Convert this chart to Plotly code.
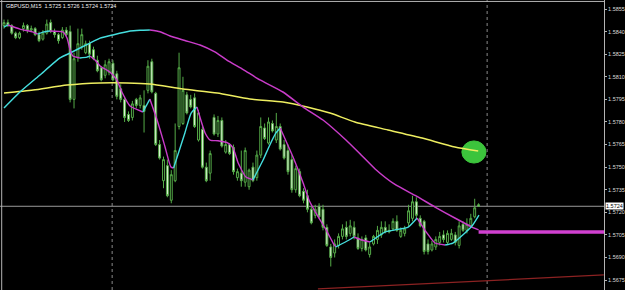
import plotly.graph_objects as go

# ---------------- data (GBPUSD M15) ----------------
OPEN = [1.5844, 1.5846, 1.5844, 1.5839, 1.5836, 1.5842, 1.5844, 1.5841, 1.5842, 1.5838,
        1.5835, 1.5839, 1.5846, 1.5840, 1.5838, 1.5836, 1.5841, 1.5840, 1.5795, 1.5823,
        1.5830, 1.5826, 1.5832, 1.5828, 1.5821, 1.5816,
        1.5811, 1.5813, 1.5819, 1.5812, 1.5802, 1.5795, 1.5785, 1.5783, 1.5795, 1.5791,
        1.5791, 1.5801, 1.5820, 1.5799, 1.5765, 1.5741, 1.5751, 1.5728, 1.5741, 1.5777,
        1.5779, 1.5798, 1.5795, 1.5796, 1.5768, 1.5775,
        1.5750, 1.5746, 1.5783, 1.5772, 1.5781, 1.5760, 1.5765, 1.5763, 1.5743, 1.5746,
        1.5740, 1.5737, 1.5750, 1.5743, 1.5758, 1.5776, 1.5766, 1.5779, 1.5768, 1.5777,
        1.5765, 1.5761, 1.5755, 1.5735, 1.5747, 1.5734,
        1.5731, 1.5722, 1.5718, 1.5724, 1.5722, 1.5710, 1.5697, 1.5693, 1.5698, 1.5704,
        1.5710, 1.5706, 1.5710, 1.5703, 1.5696, 1.5703, 1.5692, 1.5699, 1.5702, 1.5705,
        1.5710, 1.5708, 1.5709, 1.5714, 1.5704, 1.5706,
        1.5713, 1.5716, 1.5727, 1.5716, 1.5714, 1.5699, 1.5695, 1.5697, 1.5700, 1.5705,
        1.5700, 1.5702, 1.5705, 1.5698, 1.5712, 1.5708, 1.5711, 1.5717, 1.5725]
HIGH = [1.5848, 1.5848, 1.5845, 1.5840, 1.5840, 1.5846, 1.5845, 1.5844, 1.5843, 1.5840,
        1.5841, 1.5848, 1.5848, 1.5842, 1.5839, 1.5843, 1.5843, 1.5844, 1.5826, 1.5842,
        1.5842, 1.5834, 1.5834, 1.5830, 1.5824, 1.5817,
        1.5821, 1.5822, 1.5821, 1.5814, 1.5805, 1.5797, 1.5787, 1.5794, 1.5796, 1.5798,
        1.5801, 1.5821, 1.5822, 1.5800, 1.5768, 1.5757, 1.5755, 1.5748, 1.5779, 1.5826,
        1.5810, 1.5800, 1.5798, 1.5799, 1.5788, 1.5777,
        1.5753, 1.5761, 1.5785, 1.5784, 1.5783, 1.5768, 1.5766, 1.5765, 1.5749, 1.5761,
        1.5763, 1.5749, 1.5753, 1.5761, 1.5783, 1.5779, 1.5783, 1.5781, 1.5786, 1.5779,
        1.5768, 1.5765, 1.5758, 1.5751, 1.5749, 1.5736,
        1.5735, 1.5724, 1.5725, 1.5726, 1.5725, 1.5712, 1.5699, 1.5702, 1.5706, 1.5712,
        1.5714, 1.5715, 1.5714, 1.5706, 1.5704, 1.5705, 1.5700, 1.5705, 1.5711, 1.5714,
        1.5714, 1.5712, 1.5716, 1.5718, 1.5710, 1.5711,
        1.5725, 1.5731, 1.5730, 1.5718, 1.5715, 1.5702, 1.5701, 1.5704, 1.5707, 1.5708,
        1.5708, 1.5709, 1.5707, 1.5714, 1.5714, 1.5716, 1.5719, 1.5729, 1.5726]
LOW = [1.5842, 1.5843, 1.5838, 1.5835, 1.5835, 1.5840, 1.5839, 1.5840, 1.5837, 1.5833,
       1.5834, 1.5838, 1.5839, 1.5836, 1.5832, 1.5835, 1.5837, 1.5793, 1.5789, 1.5820,
       1.5828, 1.5825, 1.5822, 1.5821, 1.5813, 1.5807,
       1.5809, 1.5811, 1.5807, 1.5795, 1.5793, 1.5780, 1.5780, 1.5781, 1.5789, 1.5789,
       1.5773, 1.5799, 1.5799, 1.5764, 1.5755, 1.5736, 1.5730, 1.5726, 1.5740, 1.5775,
       1.5778, 1.5785, 1.5789, 1.5776, 1.5767, 1.5749,
       1.5740, 1.5741, 1.5771, 1.5770, 1.5763, 1.5759, 1.5758, 1.5745, 1.5741, 1.5737,
       1.5737, 1.5735, 1.5740, 1.5741, 1.5756, 1.5768, 1.5765, 1.5773, 1.5766, 1.5761,
       1.5755, 1.5745, 1.5733, 1.5733, 1.5730, 1.5726,
       1.5720, 1.5712, 1.5716, 1.5716, 1.5708, 1.5697, 1.5684, 1.5690, 1.5696, 1.5702,
       1.5702, 1.5704, 1.5702, 1.5695, 1.5694, 1.5694, 1.5690, 1.5698, 1.5699, 1.5703,
       1.5706, 1.5706, 1.5708, 1.5707, 1.5703, 1.5704,
       1.5711, 1.5714, 1.5716, 1.5710, 1.5692, 1.5692, 1.5694, 1.5695, 1.5698, 1.5700,
       1.5699, 1.5701, 1.5698, 1.5696, 1.5707, 1.5706, 1.5710, 1.5716, 1.5724]
CLOSE = [1.5846, 1.5844, 1.5839, 1.5836, 1.5839, 1.5844, 1.5841, 1.5842, 1.5838, 1.5834,
         1.5839, 1.5845, 1.5840, 1.5838, 1.5834, 1.5841, 1.5838, 1.5795, 1.5822, 1.5832,
         1.5838, 1.5832, 1.5825, 1.5822, 1.5814, 1.5808,
         1.5818, 1.5820, 1.5808, 1.5797, 1.5795, 1.5783, 1.5781, 1.5792, 1.5791, 1.5796,
         1.5787, 1.5817, 1.5800, 1.5765, 1.5756, 1.5755, 1.5731, 1.5745, 1.5761, 1.5816,
         1.5801, 1.5786, 1.5790, 1.5777, 1.5786, 1.5750,
         1.5741, 1.5759, 1.5772, 1.5781, 1.5764, 1.5765, 1.5759, 1.5747, 1.5747, 1.5741,
         1.5761, 1.5748, 1.5741, 1.5758, 1.5777, 1.5769, 1.5780, 1.5774, 1.5777, 1.5762,
         1.5756, 1.5747, 1.5735, 1.5749, 1.5731, 1.5728,
         1.5722, 1.5713, 1.5722, 1.5717, 1.5710, 1.5698, 1.5690, 1.5699, 1.5704, 1.5709,
         1.5704, 1.5711, 1.5704, 1.5696, 1.5702, 1.5695, 1.5697, 1.5704, 1.5708, 1.5710,
         1.5707, 1.5707, 1.5714, 1.5708, 1.5708, 1.5709,
         1.5721, 1.5727, 1.5718, 1.5711, 1.5694, 1.5694, 1.5699, 1.5702, 1.5704, 1.5702,
         1.5706, 1.5706, 1.5700, 1.5711, 1.5708, 1.5712, 1.5716, 1.5723, 1.5724]
BARS = list(range(len(CLOSE)))

# fast moving average (bar index, price)
FAST_X = [0, 1.0, 4.1, 7.5, 8.7, 10.0, 11.8, 15.2, 16.2, 17.0, 17.7, 19.5, 21.3, 22.1, 23.4,
          24.7, 27.2, 29.0, 30.3, 32.4, 35.7, 37.5, 39.6, 41.4, 42.9, 43.6, 46.5, 48.1, 49.6,
          51.7, 53.0, 55.0, 57.6, 58.9, 60.2, 62.2, 64.0, 66.6, 68.1, 69.9, 71.0, 74.3, 76.9,
          78.4, 80.2, 82.8, 84.6, 85.3, 88.7, 90.0, 92.0, 94.1, 97.9, 100.5, 103.9, 106.2,
          108.7, 110.8, 113.4, 115.4, 118.5, 120.3, 122.1]
FAST_Y = [1.58430, 1.58444, 1.58417, 1.58397, 1.58384, 1.58397, 1.58404, 1.58397, 1.58357,
          1.58278, 1.58238, 1.58225, 1.58231, 1.58238, 1.58211, 1.58172, 1.58132, 1.58079,
          1.57999, 1.57906, 1.57866, 1.57952, 1.57793, 1.57634, 1.57501, 1.57494, 1.57727,
          1.57859, 1.57899, 1.57727, 1.57680, 1.57675, 1.57660, 1.57627, 1.57527, 1.57434,
          1.57415, 1.57547, 1.57634, 1.57727, 1.57760, 1.57567, 1.57395, 1.57282, 1.57195,
          1.57083, 1.56996, 1.56970, 1.57016, 1.57036, 1.57016, 1.57003, 1.57069, 1.57083,
          1.57102, 1.57162, 1.57063, 1.56996, 1.56983, 1.56996, 1.57063, 1.57109, 1.57182]

# slow moving average
SLOW_X = [0, 4.1, 9.25, 14.4, 17.0, 22.1, 24.7, 27.8, 32.4, 35.0, 37.5, 40.1, 42.7, 46.5,
          50.4, 54.2, 57.3, 61.5, 65.8, 71.7, 76.9, 82.0, 87.9, 91.8, 95.4, 100.5, 105.7,
          110.8, 115.9, 120.3, 122.0]
SLOW_Y = [1.57893, 1.57999, 1.58112, 1.58225, 1.58258, 1.58324, 1.58357, 1.58377, 1.58404,
          1.58409, 1.58411, 1.58399, 1.58371, 1.58341, 1.58311, 1.58265, 1.58211, 1.58148,
          1.58079, 1.57999, 1.57899, 1.57813, 1.57680, 1.57581, 1.57488, 1.57385, 1.57312,
          1.57235, 1.57162, 1.57102, 1.57083]
PROJ_X = [122.0, 154.5]
PROJ_LEVEL = 1.5707

# long moving average (yellow)
YEL_X = [0, 7.5, 16.2, 24.7, 31.6, 37.5, 46.0, 54.8, 63.2, 71.7, 77.9, 83.8, 90.2, 98.7,
         107.5, 115.9, 121.9]
YEL_Y = [1.57992, 1.58012, 1.58045, 1.58059, 1.58059, 1.58052, 1.58019, 1.57992, 1.57952,
         1.57932, 1.57899, 1.57859, 1.57800, 1.57747, 1.57693, 1.57634, 1.57607]

# trend line, markers
TREND_X = [80.7, 154.2]
TREND_Y = [1.56691, 1.56784]
BID = 1.5724
SEPARATORS = [27.8, 124.2]
CIRCLE_X = (117.7, 123.9)
CIRCLE_Y = (1.57527, 1.57674)
YTICKS = [1.5675, 1.5690, 1.5705, 1.5720, 1.5735, 1.5750, 1.5765, 1.5780, 1.5795,
          1.5810, 1.5825, 1.5840, 1.5855]
TITLE = "GBPUSD,M15\u00a0\u00a01.5725 1.5726 1.5724 1.5724"

X_RANGE = [-1.03, 154.24]
Y_RANGE = [1.56684, 1.58610]

CANDLE_LINE = "#55ab48"
CYAN = "#45dede"
MAGENTA = "#c93cc9"
YELLOW = "#eeee60"


def direction_runs(xs, ys):
    """Split a line into runs of rising / falling segments."""
    runs = []
    cur = None
    for k in range(1, len(xs)):
        up = ys[k] >= ys[k - 1]
        if cur is None or cur[0] != up:
            cur = [up, [xs[k - 1]], [ys[k - 1]]]
            runs.append(cur)
        cur[1].append(xs[k])
        cur[2].append(ys[k])
    return runs


fig = go.Figure()

fig.add_trace(go.Candlestick(
    x=BARS, open=OPEN, high=HIGH, low=LOW, close=CLOSE,
    increasing=dict(line=dict(color=CANDLE_LINE, width=1), fillcolor="#000000"),
    decreasing=dict(line=dict(color=CANDLE_LINE, width=1), fillcolor="#eefbe8"),
    whiskerwidth=0, hoverinfo="skip", showlegend=False))

fig.add_trace(go.Scatter(x=YEL_X, y=YEL_Y, mode="lines",
                         line=dict(color=YELLOW, width=1.5, shape="spline", smoothing=0.6),
                         hoverinfo="skip"))

for xs, ys, w in ((SLOW_X, SLOW_Y, 1.5), (FAST_X, FAST_Y, 1.4)):
    for up, rx, ry in direction_runs(xs, ys):
        fig.add_trace(go.Scatter(x=rx, y=ry, mode="lines",
                                 line=dict(color=CYAN if up else MAGENTA, width=w,
                                           shape="spline", smoothing=0.5),
                                 hoverinfo="skip"))

fig.add_trace(go.Scatter(x=PROJ_X, y=[PROJ_LEVEL, PROJ_LEVEL], mode="lines",
                         line=dict(color="#d040d0", width=3.5), hoverinfo="skip"))

fig.add_trace(go.Scatter(x=TREND_X, y=TREND_Y, mode="lines",
                         line=dict(color="#8c2222", width=1.2), hoverinfo="skip"))

shapes = [
    dict(type="circle", xref="x", yref="y", x0=CIRCLE_X[0], x1=CIRCLE_X[1],
         y0=CIRCLE_Y[0], y1=CIRCLE_Y[1], fillcolor="#3cc43c",
         line=dict(color="#3cc43c", width=1), layer="below"),
    dict(type="line", xref="paper", yref="y", x0=0, x1=1, y0=BID, y1=BID,
         line=dict(color="#9a9a9a", width=1), layer="below"),
    dict(type="line", xref="paper", yref="paper", x0=0, x1=1, y0=0.995, y1=0.995,
         line=dict(color="#b4b4b4", width=1)),
    dict(type="line", xref="paper", yref="paper", x0=0.0028, x1=0.0028, y0=0, y1=1,
         line=dict(color="#b4b4b4", width=1)),
]
for sx in SEPARATORS:
    shapes.append(dict(type="line", xref="x", yref="paper", x0=sx, x1=sx, y0=0, y1=1,
                       line=dict(color="#8a8a8a", width=1, dash="dot"), layer="below"))

annotations = [
    dict(text=TITLE, xref="paper", yref="paper", x=0.007, y=1, xanchor="left",
         yanchor="top", yshift=-1, showarrow=False,
         font=dict(family="Liberation Sans, Arial", size=5.5, color="#f0f0f0")),
    dict(text="%.4f" % BID, xref="paper", yref="y", x=1, y=BID, xanchor="left",
         xshift=1, showarrow=False, bgcolor="#ffffff", borderpad=0,
         font=dict(family="Liberation Sans, Arial", size=5.5, color="#000000")),
]

fig.update_layout(
    width=625, height=290,
    margin=dict(l=0, r=21, t=0, b=0),
    paper_bgcolor="#000000", plot_bgcolor="#000000",
    showlegend=False,
    shapes=shapes, annotations=annotations,
    xaxis=dict(range=X_RANGE, visible=False, showgrid=False, zeroline=False,
               rangeslider=dict(visible=False), fixedrange=True),
    yaxis=dict(range=Y_RANGE, side="right", tickvals=YTICKS,
               ticktext=["%.4f" % v for v in YTICKS],
               tickfont=dict(family="Liberation Sans, Arial", size=5.5, color="#dcdcdc"),
               ticks="outside", ticklen=2, tickcolor="#b4b4b4",
               showline=True, linecolor="#b4b4b4", linewidth=1,
               showgrid=False, zeroline=False, automargin=False, fixedrange=True),
)

fig.write_html("out.html")
